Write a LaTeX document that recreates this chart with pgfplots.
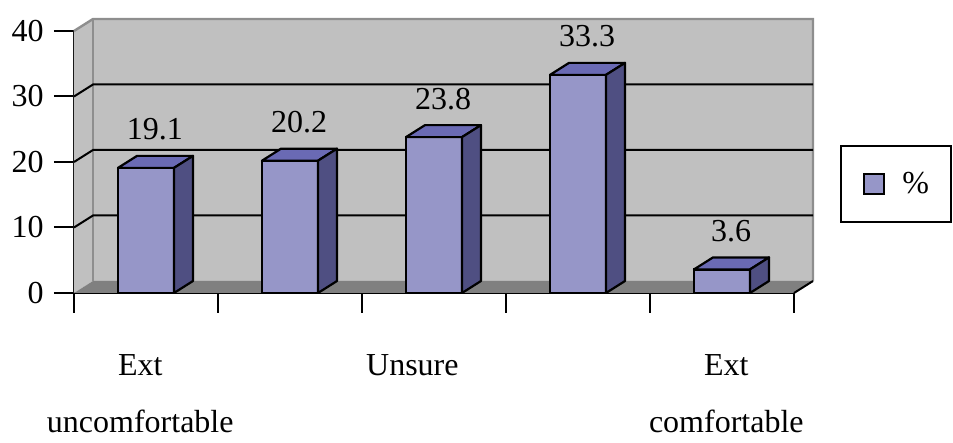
\documentclass[border=0pt]{standalone}
\usepackage{fontspec}
\setmainfont{Liberation Serif}
\usepackage{pgfplots}
\usepackage{pgfplotstable}
\pgfplotsset{compat=1.18}

\definecolor{barfront}{HTML}{9696C8}
\definecolor{bartop}{HTML}{6A6AB4}
\definecolor{barside}{HTML}{4F4F82}
\definecolor{wallgray}{HTML}{C0C0C0}
\definecolor{floorgray}{HTML}{808080}
\definecolor{edgegray}{HTML}{8E8E8E}

\pgfplotstableread{
x y
0 19.1
1 20.2
2 23.8
3 33.3
4 3.6
}\comfort

% top and side face of a column, origin at the top centre of the front face
\pgfdeclareplotmark{prism}{%
  \pgfmathsetlengthmacro\hh{\barh*3.275pt}%
  \pgfmathsetlengthmacro\hb{6pt-\hh}%
  \pgfsetlinewidth{1.1pt}%
  \pgfsetstrokecolor{black}%
  \pgfsetroundjoin
  \pgfsetfillcolor{bartop}%
  \pgfpathmoveto{\pgfpoint{-14pt}{0pt}}%
  \pgfpathlineto{\pgfpoint{-4.5pt}{6pt}}%
  \pgfpathlineto{\pgfpoint{23.5pt}{6pt}}%
  \pgfpathlineto{\pgfpoint{14pt}{0pt}}%
  \pgfpathclose
  \pgfusepath{fill,stroke}%
  \pgfsetfillcolor{barside}%
  \pgfpathmoveto{\pgfpoint{14pt}{0pt}}%
  \pgfpathlineto{\pgfpoint{23.5pt}{6pt}}%
  \pgfpathlineto{\pgfpoint{23.5pt}{\hb}}%
  \pgfpathlineto{\pgfpoint{14pt}{-\hh}}%
  \pgfpathclose
  \pgfusepath{fill,stroke}%
}

\begin{document}
\begin{tikzpicture}[font=\fontsize{16}{28.5}\selectfont]
\useasboundingbox (-37pt,-75pt) rectangle (439.5pt,146.5pt);
\begin{axis}[
  at={(0,0)}, anchor=south west,
  x=72pt, y=3.275pt,
  xmin=-0.5, xmax=4.5, ymin=0, ymax=40,
  clip=false,
  axis x line*=bottom, axis y line*=left,
  axis line style={-, line width=1pt, black},
  tick align=outside, major tick length=10pt,
  every tick/.style={black, line width=1pt},
  ytick={0,10,20,30,40},
  yticklabel style={inner sep=0pt},
  yticklabel shift=5pt,
  xtick={-0.5,0.5,1.5,2.5,3.5,4.5}, xticklabels={},
  extra x ticks={-0.04,1.85,4.03},
  extra x tick labels={{Ext\\uncomfortable},Unsure,{Ext\\comfortable}},
  extra x tick style={major tick length=0pt,
    tick label style={align=center, anchor=north, inner sep=0pt, yshift=-30.7pt}},
  tick label style={font=\fontsize{16}{28.5}\selectfont},
  /pgf/number format/assume math mode=true,
  legend style={at={(1.064,0.565)}, anchor=north west, draw=black, line width=1pt,
    inner xsep=11pt, inner ysep=13pt, font=\fontsize{16}{19}\selectfont,
    nodes={inner sep=0pt}, column sep=8.5pt},
]
% left wall, back wall and floor
\fill[wallgray] (axis cs:-0.5,0) -- ([shift={(9.5pt,6pt)}]axis cs:-0.5,0)
  -- ([shift={(9.5pt,6pt)}]axis cs:-0.5,40) -- (axis cs:-0.5,40) -- cycle;
\fill[wallgray] ([shift={(9.5pt,6pt)}]axis cs:-0.5,0) rectangle ([shift={(9.5pt,6pt)}]axis cs:4.5,40);
\fill[floorgray] (axis cs:-0.5,0) -- (axis cs:4.5,0) -- ([shift={(9.5pt,6pt)}]axis cs:4.5,0)
  -- ([shift={(9.5pt,6pt)}]axis cs:-0.5,0) -- cycle;
\draw[edgegray, line width=1.2pt] (axis cs:-0.5,40) -- ([shift={(9.5pt,6pt)}]axis cs:-0.5,40)
  -- ([shift={(9.5pt,6pt)}]axis cs:4.5,40) -- ([shift={(9.5pt,6pt)}]axis cs:4.5,0);
\draw[edgegray, line width=1.2pt] ([shift={(9.5pt,6pt)}]axis cs:-0.5,0) -- ([shift={(9.5pt,6pt)}]axis cs:-0.5,40);
\pgfplotsinvokeforeach{10,20,30}{
  \draw[black, line width=1pt] (axis cs:-0.5,#1) -- ([shift={(9.5pt,6pt)}]axis cs:-0.5,#1)
    -- ([shift={(9.5pt,6pt)}]axis cs:4.5,#1);
}
\draw[black, line width=1pt] (axis cs:4.5,0) -- ([shift={(9.5pt,6pt)}]axis cs:4.5,0);

% front faces
\addplot[ybar, bar width=28pt, fill=barfront, draw=black, line width=1.1pt,
  legend image code/.code={\draw[fill=barfront, draw=black, line width=1.2pt] (0pt,-5pt) rectangle (10pt,5pt);}]
  table[x=x, y=y] {\comfort};
\addlegendentry{\%}
% tops, sides and value labels
\addplot[only marks, mark=prism, forget plot,
  visualization depends on={rawy \as \barh},
  nodes near coords,
  every node near coord/.append style={anchor=base, xshift=4.5pt, yshift=14pt, inner sep=0pt,
    font=\fontsize{16}{19}\selectfont, black},
  nodes near coords style={/pgf/number format/.cd, fixed, precision=1, assume math mode=true}]
  table[x=x, y=y] {\comfort};
\end{axis}
\end{tikzpicture}
\end{document}
